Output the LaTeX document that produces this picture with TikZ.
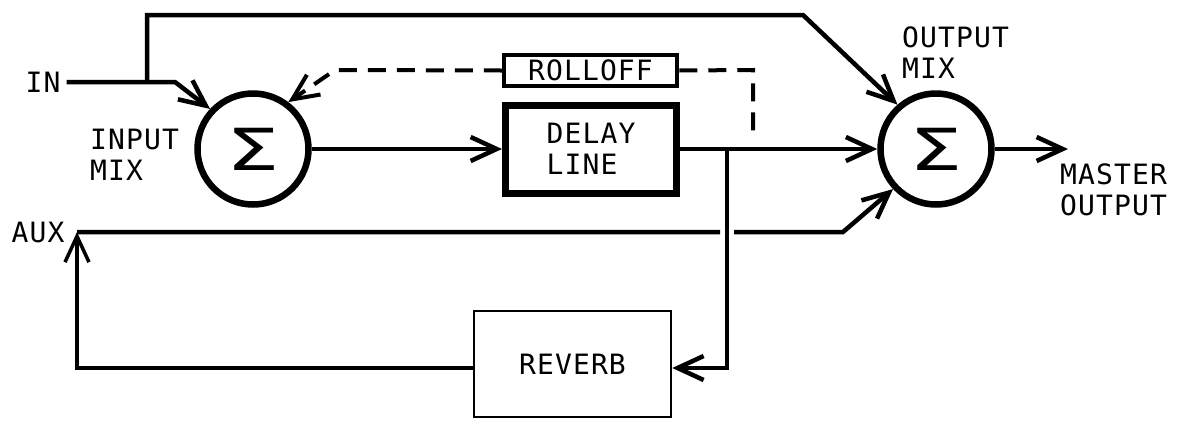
\documentclass[tikz,border=0pt]{standalone}
\usepackage{fontspec}
\setmainfont{DejaVu Sans Mono}[LetterSpace=4]
\newfontfamily\sigfont{DejaVu Sans}
\usetikzlibrary{arrows.meta}
\newcommand{\mysig}{\scalebox{1.45}[1]{\sigfont\fontsize{58}{58}\selectfont Σ}}
\begin{document}
\begin{tikzpicture}[x=1pt,y=-1pt,
  every node/.style={font=\fontsize{28}{31}\selectfont},
  sumnode/.style={circle, draw, line width=6.5pt, minimum size=111pt, inner sep=0pt},
  wire/.style={line width=4.5pt, line join=miter},
  dwire/.style={line width=4pt, dash pattern=on 18pt off 11pt},
  arr/.style={-{Straight Barb[length=26pt,width=24pt]}},
  lbl/.style={anchor=west, align=left, inner sep=0pt}
]
\useasboundingbox[fill=white] (0,0) rectangle (1177,421);

% blocks
\node[sumnode] (inmix) at (253,149) {\mysig};
\node[sumnode] (outmix) at (936,149) {\mysig};
\node[draw, line width=7pt, minimum width=171pt, minimum height=88pt, align=left] (delay) at (591,149) {DELAY\\LINE};
\node[draw, line width=4.5pt, minimum width=173pt, minimum height=31pt, inner sep=0pt] (rolloff) at (590.5,70.5) {ROLLOFF};
\node[draw, line width=2.5pt, minimum width=197pt, minimum height=106pt] (reverb) at (572.5,364) {REVERB};

% labels
\node[inner sep=6pt] (inlbl) at (43,82) {IN};
\node[inner sep=2pt] (auxlbl) at (38,232) {AUX};
\node[lbl] (inmixlbl) at (90,155) {INPUT\\MIX};
\node[lbl] (outmixlbl) at (902,53) {OUTPUT\\MIX};
\node[lbl] (masterlbl) at (1060,190) {MASTER\\OUTPUT};

% coordinates
\coordinate (j1) at (147,82);
\coordinate (inbend) at (175,82);
\coordinate (topL) at (147,15);
\coordinate (topR) at (803,15);
\coordinate (dashL) at (335,70);
\coordinate (dashR) at (753,70);
\coordinate (dashEnd) at (753,137);
\coordinate (j2) at (727,149);
\coordinate (revin) at (727,368);
\coordinate (aux) at (77,232);
\coordinate (loopL) at (77,368);
\coordinate (gapL) at (720,232);
\coordinate (gapR) at (734,232);
\coordinate (auxR) at (843,232);
\coordinate (mout) at (1068,149);

% connectors
\draw[wire,arr] (inlbl.east) -- (inbend) -- (inmix.137);
\draw[wire,arr] (j1) -- (topL) -- (topR) -- (outmix.131);
\draw[dwire,arr] (rolloff.west) -- (dashL) -- (inmix.53);
\draw[dwire] (rolloff.east) -- (dashR) -- (dashEnd);
\draw[wire,arr] (inmix.east) -- (delay.west);
\draw[wire,arr] (delay.east) -- (outmix.west);
\draw[wire,arr] (j2) -- (revin) -- (reverb.east |- revin);
\draw[wire,line width=3.5pt,arr] (reverb.west |- loopL) -- (loopL) -- (aux);
\draw[wire,arr] (aux) -- (gapL) (gapR) -- (auxR) -- (outmix.223);
\draw[wire,arr] (outmix.east) -- (mout);
\end{tikzpicture}
\end{document}
